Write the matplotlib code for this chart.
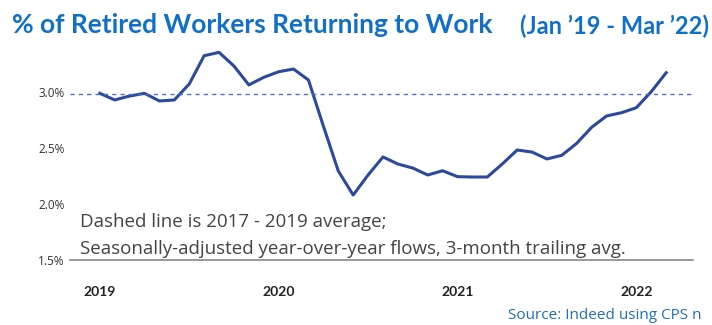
import matplotlib
matplotlib.use("Agg")
import matplotlib.pyplot as plt

months = list(range(39))  # Jan 2019 .. Mar 2022
values = [2.988, 2.929, 2.964, 2.988, 2.920, 2.929, 3.071, 3.324, 3.354, 3.232, 3.063, 3.131,
          3.181, 3.205, 3.107, 2.696, 2.295, 2.080, 2.259, 2.420, 2.357, 2.321, 2.259, 2.297,
          2.244, 2.241, 2.241, 2.357, 2.482, 2.464, 2.402, 2.435, 2.542, 2.685, 2.786, 2.815,
          2.860, 3.003, 3.172]
avg_2017_2019 = 2.98
year_ticks = [0, 12, 24, 36]
year_labels = ["2019", "2020", "2021", "2022"]
y_ticks = [1.5, 2.0, 2.5, 3.0]
y_labels = ["1.5%", "2.0%", "2.5%", "3.0%"]

title_font = "Lato"
base = "Open Sans"

fig = plt.figure(figsize=(7.12, 3.25), dpi=100)
ax = fig.add_axes([70/712, 1-260/325, (693-70)/712, (260-36)/325])

ax.plot(months, values, color="#2b4a9b", lw=2.2, solid_joinstyle="round")
ax.axhline(avg_2017_2019, color="#4f6fc4", lw=1.0, ls=(0, (3, 3)))

ax.set_xlim(-2.0, 39.8)
ax.set_ylim(1.5, 3.5)
ax.set_yticks(y_ticks)
ax.set_yticklabels(y_labels, fontfamily=base, fontsize=8.5, color="#333333")
ax.set_xticks(year_ticks)
ax.set_xticklabels(year_labels, fontfamily=title_font, fontsize=10, fontweight="bold", color="#222222")
ax.tick_params(axis="x", length=0, pad=19)
ax.tick_params(axis="y", length=0, pad=4)
for s in ["top", "right", "left"]:
    ax.spines[s].set_visible(False)
ax.spines["bottom"].set_color("#888888")
ax.spines["bottom"].set_linewidth(1.2)

ax.text(-1.35, 1.835, "Dashed line is 2017 - 2019 average;", fontfamily=base, fontsize=13.5,
        color="#444444", va="center")
ax.text(-1.35, 1.595, "Seasonally-adjusted year-over-year flows, 3-month trailing avg.",
        fontfamily=base, fontsize=13.5, color="#444444", va="center")

fig.text(12/712, 1-25/325, "% of Retired Workers Returning to Work", fontfamily=title_font,
         fontsize=19, fontweight="bold", color="#1070c8", va="center", ha="left")
fig.text(709/712, 1-26/325, "(Jan \u201919 - Mar \u201922)", fontfamily=title_font,
         fontsize=17, fontweight="bold", color="#1070c8", va="center", ha="right")

fig.text(508/712, 2/325, "Source: Indeed using CPS n", fontfamily=base,
         fontsize=11, color="#1f6fb5", va="bottom", ha="left")

fig.savefig("out.png", dpi=100)
